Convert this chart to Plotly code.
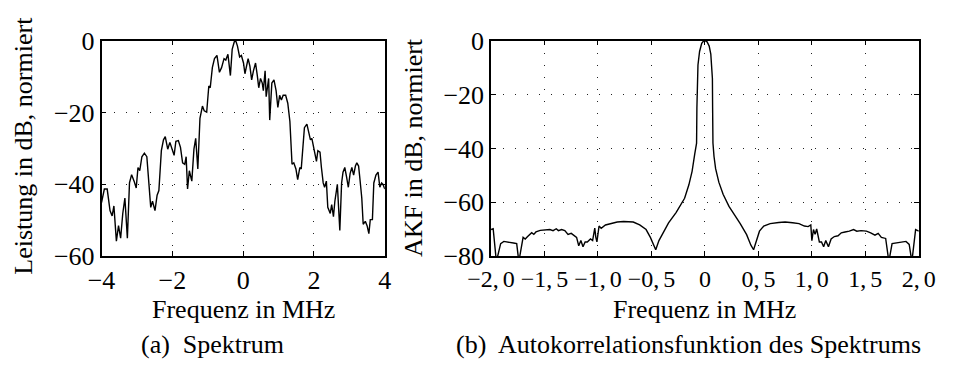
import plotly.graph_objects as go

# Spectrum (left panel): frequency in MHz, normalised power in dB
spec_freq = [
    -4.00, -3.92, -3.84, -3.76, -3.70, -3.65, -3.58, -3.52, -3.46, -3.40,
    -3.34, -3.27, -3.21, -3.15, -3.08, -3.02, -2.97, -2.92, -2.86, -2.79,
    -2.72, -2.68, -2.61, -2.56, -2.49, -2.43, -2.38, -2.31, -2.25, -2.20,
    -2.13, -2.07, -2.01, -1.95, -1.90, -1.83, -1.77, -1.71, -1.65, -1.61,
    -1.57, -1.52, -1.45, -1.39, -1.34, -1.28, -1.22, -1.15, -1.10, -1.03,
    -0.97, -0.93, -0.87, -0.81, -0.74, -0.67, -0.61, -0.54, -0.49, -0.43,
    -0.36, -0.31, -0.25, -0.21, -0.16, -0.10, -0.05, 0.01, 0.05, 0.10,
    0.14, 0.19, 0.24, 0.29, 0.35, 0.40, 0.44, 0.49, 0.54, 0.57,
    0.62, 0.65, 0.69, 0.72, 0.75, 0.81, 0.87, 0.93, 0.98, 1.03,
    1.08, 1.13, 1.20, 1.26, 1.32, 1.38, 1.43, 1.49, 1.54, 1.60,
    1.64, 1.69, 1.73, 1.80, 1.84, 1.90, 1.94, 1.99, 2.03, 2.07,
    2.11, 2.17, 2.21, 2.26, 2.30, 2.35, 2.39, 2.46, 2.50, 2.55,
    2.59, 2.66, 2.73, 2.78, 2.82, 2.87, 2.92, 2.97, 3.02, 3.07,
    3.12, 3.17, 3.21, 3.26, 3.30, 3.35, 3.39, 3.45, 3.50, 3.55,
    3.59, 3.65, 3.69, 3.75, 3.81, 3.86, 3.91, 3.95, 4.00,
]
spec_db = [
    -45.1, -41.3, -41.3, -47.3, -48.8, -46.0, -55.8, -51.5, -55.0, -48.1,
    -43.8, -55.0, -39.6, -37.3, -39.1, -41.0, -35.3, -36.2, -32.3, -31.3,
    -32.3, -37.0, -46.4, -44.7, -47.3, -43.0, -41.7, -30.6, -27.6, -26.7,
    -30.2, -28.3, -30.2, -31.9, -28.0, -27.8, -29.7, -34.0, -34.4, -32.3,
    -41.3, -36.2, -39.1, -30.2, -27.2, -35.7, -21.6, -18.2, -19.5, -19.9,
    -12.6, -13.1, -7.5, -5.0, -4.1, -8.8, -7.5, -5.0, -5.4, -3.8,
    -9.7, -2.4, -0.3, 0.0, -1.5, -4.5, -4.1, -6.2, -9.2, -6.2,
    -5.0, -7.1, -10.9, -8.4, -6.2, -9.7, -13.1, -10.5, -11.8, -13.9,
    -8.4, -15.6, -12.2, -10.5, -22.1, -11.8, -10.9, -13.9, -18.6, -15.2,
    -16.5, -15.2, -15.2, -17.4, -22.5, -34.4, -34.0, -35.7, -38.7, -35.3,
    -35.7, -28.5, -24.2, -23.2, -25.1, -27.6, -27.2, -29.7, -31.9, -33.6,
    -30.6, -31.0, -35.3, -39.6, -40.8, -39.1, -46.4, -48.1, -45.6, -49.0,
    -44.7, -40.0, -52.8, -39.6, -36.6, -35.3, -37.9, -40.8, -37.0, -35.3,
    -37.4, -34.9, -34.0, -34.9, -38.7, -43.8, -51.1, -50.3, -51.5, -53.7,
    -49.8, -49.8, -39.6, -37.4, -36.6, -40.8, -39.6, -40.0, -41.3,
]

# Autocorrelation of the spectrum (right panel), normalised, in dB
akf_freq = [
    -2.00, -1.98, -1.95, -1.91, -1.88, -1.83, -1.79, -1.76, -1.74, -1.70,
    -1.68, -1.66, -1.64, -1.62, -1.60, -1.58, -1.54, -1.49, -1.45, -1.42,
    -1.39, -1.37, -1.34, -1.31, -1.28, -1.25, -1.22, -1.20, -1.18, -1.16,
    -1.14, -1.12, -1.10, -1.07, -1.05, -1.03, -1.02, -1.01, -0.99, -0.97,
    -0.93, -0.88, -0.82, -0.76, -0.71, -0.67, -0.61, -0.55, -0.51, -0.48,
    -0.46, -0.43, -0.39, -0.34, -0.27, -0.19, -0.15, -0.12, -0.095, -0.078,
    -0.075, -0.072, -0.065, -0.05, -0.03, -0.015,
    0.00, 0.02, 0.04, 0.055, 0.065, 0.07, 0.072, 0.075, 0.085, 0.10,
    0.13, 0.17, 0.225, 0.28, 0.33, 0.39, 0.43, 0.455, 0.48, 0.51,
    0.55, 0.61, 0.69, 0.75, 0.82, 0.88, 0.93, 0.965, 0.99, 1.00,
    1.015, 1.03, 1.045, 1.07, 1.09, 1.11, 1.13, 1.155, 1.18, 1.21,
    1.245, 1.275, 1.31, 1.35, 1.39, 1.42, 1.46, 1.51, 1.55, 1.59,
    1.62, 1.65, 1.69, 1.72, 1.75, 1.79, 1.84, 1.88, 1.91, 1.935,
    1.97, 2.00,
]
akf_db = [
    -70.1, -69.8, -82.0, -75.3, -74.5, -74.7, -75.1, -75.3, -82.0, -73.0,
    -73.6, -72.8, -72.2, -71.3, -71.9, -71.0, -70.4, -70.1, -70.1, -70.5,
    -69.8, -70.5, -70.1, -70.5, -71.9, -71.5, -72.4, -73.0, -76.1, -74.2,
    -76.5, -74.7, -74.7, -73.6, -74.2, -69.6, -73.0, -74.7, -68.8, -69.6,
    -68.4, -67.9, -67.3, -67.1, -67.1, -67.3, -68.4, -70.1, -73.0, -75.9,
    -77.6, -74.2, -71.0, -67.6, -63.8, -58.5, -53.5, -48.5, -42.0, -38.0,
    -25.0, -14.0, -9.0, -4.0, -1.0, -0.2,
    0.0, -0.4, -2.0, -5.0, -10.0, -14.0, -25.0, -38.0, -43.0, -47.5,
    -52.5, -57.0, -61.5, -64.8, -67.9, -72.0, -75.9, -77.6, -74.2, -70.7,
    -68.8, -67.9, -67.5, -67.3, -67.6, -67.9, -68.8, -69.0, -68.4, -74.2,
    -70.1, -71.9, -69.9, -74.7, -74.7, -76.5, -74.2, -76.5, -73.6, -72.7,
    -72.4, -71.3, -71.0, -70.7, -70.1, -70.7, -70.5, -70.7, -71.3, -72.2,
    -71.5, -73.0, -73.4, -82.0, -75.3, -75.0, -74.7, -74.5, -75.6, -82.0,
    -70.1, -70.7,
]

spec_xticks = [-4, -2, 0, 2, 4]
spec_yticks = [-60, -40, -20, 0]
akf_xticks = [-2.0, -1.5, -1.0, -0.5, 0.0, 0.5, 1.0, 1.5, 2.0]
akf_xlabels = ["−2,\u20060", "−1,\u20065", "−1,\u20060", "−0,\u20065", "0",
               "0,\u20065", "1,\u20060", "1,\u20065", "2,\u20060"]
akf_yticks = [-80, -60, -40, -20, 0]

W, H = 954, 367
FONT = "Liberation Serif"
FS = 26

fig = go.Figure()
fig.add_trace(go.Scatter(x=spec_freq, y=spec_db, mode="lines",
                         line=dict(color="black", width=1.4),
                         xaxis="x", yaxis="y", showlegend=False))
fig.add_trace(go.Scatter(x=akf_freq, y=akf_db, mode="lines",
                         line=dict(color="black", width=1.4),
                         xaxis="x2", yaxis="y2", showlegend=False))

axis_common = dict(
    showline=True, linecolor="black", linewidth=1.5, mirror="ticks",
    ticks="inside", ticklen=5, tickcolor="black", tickwidth=1,
    showgrid=True, gridcolor="#222", gridwidth=1, griddash="1px,11px",
    zeroline=False, tickangle=0,
)
tick_font = dict(family=FONT, size=FS, color="black")

ydom = [1 - 263 / H, 1 - 29 / H]
fig.update_layout(
    width=W, height=H,
    margin=dict(l=0, r=0, t=0, b=0),
    paper_bgcolor="white", plot_bgcolor="white",
    font=dict(family=FONT, size=FS, color="black"),
    xaxis=dict(domain=[81 / W, 377 / W], range=[-4, 4],
               tickvals=spec_xticks, anchor="y", tickfont=tick_font,
               **axis_common),
    yaxis=dict(domain=ydom, range=[-60, 0],
               tickvals=spec_yticks, anchor="x", tickfont=tick_font,
               **axis_common),
    xaxis2=dict(domain=[488 / W, 935 / W], range=[-2, 2],
                tickvals=akf_xticks, ticktext=akf_xlabels, anchor="y2",
                tickfont=dict(family=FONT, size=24, color="black"),
                **axis_common),
    yaxis2=dict(domain=ydom, range=[-80, 0],
                tickvals=akf_yticks, anchor="x2", tickfont=tick_font,
                **axis_common),
)

def label(text, x, y, angle=0):
    fig.add_annotation(text=text, x=x / W, y=1 - y / H, xref="paper", yref="paper",
                       showarrow=False, textangle=angle,
                       font=dict(family=FONT, size=FS, color="black"),
                       xanchor="center", yanchor="middle")

label("Leistung in dB, normiert", 0, 143, -90)
label("AKF in dB, normiert", 407, 145, -90)
label("Frequenz in MHz", 229, 321)
label("Frequenz in MHz", 711.5, 321)
label("(a)  Spektrum", 197, 359)
label("(b)  Autokorrelationsfunktion des Spektrums", 694, 359)

fig.write_html("out.html")
